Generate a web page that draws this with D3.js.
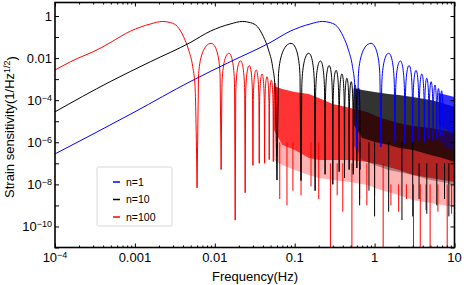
<!DOCTYPE html>
<meta charset="utf-8">
<title>strain sensitivity</title>
<style>
body { margin: 0; background: #fff; }
text { font-family: "Liberation Sans", Arial, sans-serif; fill: #000; }
</style>
<body>
<div id="chart"></div>
<script src="https://cdn.jsdelivr.net/npm/d3@7/dist/d3.min.js"></script>
<script>
// values: [frequency Hz, strain 1/Hz^1/2]

// rising part and main lobe, up to the first notch
var blueMain = [[1e-4, 2.8e-7], [0.001, 2.8e-5], [0.0049, 7.6e-4], [0.0156, 6.7e-3], [0.049, 0.054],
  [0.088, 0.19], [0.157, 0.42], [0.222, 0.55], [0.281, 0.48], [0.342, 0.31], [0.406, 0.104],
  [0.471, 0.024], [0.529, 0.0039], [0.566, 4.4e-4]];
var blackMain = [[1e-4, 2.8e-5], [4.9e-4, 7.6e-4], [0.00156, 6.7e-3], [0.0049, 0.054],
  [0.0088, 0.19], [0.0157, 0.42], [0.0222, 0.55], [0.0281, 0.48], [0.0342, 0.31], [0.0406, 0.104],
  [0.0471, 0.024], [0.0529, 0.0039], [0.0566, 4.4e-4]];
var redMain = [[1e-4, 2.7e-3], [1.56e-4, 6.7e-3], [3.66e-4, 0.029], [4.9e-4, 0.054],
  [8.8e-4, 0.19], [0.00157, 0.42], [0.00222, 0.55], [0.00281, 0.48], [0.00342, 0.31], [0.00406, 0.104],
  [0.00471, 0.024], [0.00529, 0.0039], [0.00566, 4.4e-4]];

// notches [f, depth] and the lobe tops between them
var blueNotches = [[0.6, 5e-7], [1.2, 6e-7], [1.8, 1e-6], [2.4, 8e-7], [3.0, 1e-6], [3.6, 1.2e-6],
  [4.2, 1e-6], [4.8, 1.5e-6], [5.4, 1.2e-6], [6.0, 1.5e-6], [6.6, 2e-6], [7.2, 2e-6]];
var bluePeaks = [0.050, 0.0169, 0.0073, 0.0044, 0.0026, 0.00176, 0.0011, 7.6e-4, 5.3e-4, 3.6e-4, 2.8e-4];

var blackNotches = [[0.06, 1.6e-8], [0.12, 1.5e-8], [0.18, 5e-9], [0.24, 3e-8], [0.30, 1e-8], [0.36, 4e-8],
  [0.42, 2e-8], [0.48, 5e-8], [0.54, 3e-8], [0.60, 6e-8], [0.66, 5e-8]];
var blackPeaks = [0.050, 0.0169, 0.0073, 0.0044, 0.0026, 0.00176, 0.0011, 7.6e-4, 5.3e-4, 3.8e-4];

var redNotches = [[0.006, 6.8e-9], [0.012, 5e-8], [0.018, 2e-10], [0.024, 4e-9], [0.030, 8e-8], [0.036, 1e-7],
  [0.042, 1e-7], [0.048, 1.5e-7], [0.054, 1.2e-7], [0.060, 2e-7]];
var redPeaks = [0.050, 0.0169, 0.0074, 0.0044, 0.0027, 0.00176, 0.0013, 9e-4, 6.5e-4];

// dense part drawn as a band: [f, top, bottom of the solid part, bottom of the thin part]
var blueBand = [[6.3, 2.2e-4, 6.6e-6, 1.3e-6], [8, 1.77e-4, 3.8e-6, 5.4e-7], [10, 1.42e-4, 2.2e-6, 4.3e-7]];
var blackBand = [[0.55, 3.8e-4, 6.6e-6, 7.4e-7], [0.7, 3.05e-4, 1.6e-6, 1.44e-7], [1, 2.45e-4, 1.03e-6, 8.4e-8],
  [1.5, 1.97e-4, 7.4e-7, 4.8e-8], [2, 1.77e-4, 5.4e-7, 3.9e-8], [3, 1.42e-4, 4.3e-7, 2.8e-8],
  [5, 1.02e-4, 2.5e-7, 1.6e-8], [7, 7.4e-5, 1.8e-7, 1.3e-8], [10, 4.75e-5, 1.16e-7, 9.4e-9]];
var redBand = [[0.055, 4.7e-4, 3.8e-6, 1.44e-7], [0.07, 3.4e-4, 7.4e-7, 8.4e-8], [0.1, 2.45e-4, 4.3e-7, 4.8e-8],
  [0.15, 1.97e-4, 1.8e-7, 2.8e-8], [0.2, 1.27e-4, 1.44e-7, 2.0e-8], [0.3, 6.6e-5, 1.44e-7, 1.6e-8],
  [0.5, 4.3e-5, 1.44e-7, 1.3e-8], [0.8, 2.75e-5, 1.16e-7, 9.4e-9], [1.2, 1.43e-5, 8.4e-8, 5.4e-9],
  [2, 8.3e-6, 4.8e-8, 3.1e-9], [3, 5.9e-6, 2.8e-8, 1.8e-9], [5, 4.8e-6, 2.0e-8, 1.3e-9],
  [7, 3.8e-6, 1.6e-8, 1.05e-9], [10, 2.8e-6, 1.3e-8, 8.4e-10]];

// deep spikes under the bands: [f, from, to]
var blackSpikes = [[0.65, 1e-6, 1e-9], [0.85, 1e-6, 5e-9], [1.0, 1e-6, 3e-10], [1.5, 1e-6, 5e-10],
  [2.2, 1e-6, 2e-10], [3.0, 1e-6, 3e-10], [3.6, 1e-7, 2e-9], [4.5, 1e-7, 4e-10], [6, 1e-7, 1e-9],
  [7.5, 1e-7, 2e-9], [8.5, 1e-7, 3e-10]];
var redSpikes = [[0.065, 1e-6, 2e-9], [0.08, 1e-6, 1e-9], [0.095, 1e-6, 5e-9], [0.12, 1e-6, 3e-9],
  [0.16, 1e-6, 8e-9], [0.2, 1e-6, 2e-9], [0.28, 1e-7, 1e-11], [0.34, 1e-7, 3e-9], [0.4, 1e-7, 5e-10],
  [0.52, 1e-7, 1e-11], [0.65, 1e-7, 2e-9], [0.8, 1e-7, 1e-9], [1.0, 1e-7, 3e-9], [1.28, 1e-7, 1e-11],
  [1.6, 1e-8, 1e-9], [2, 1e-8, 5e-10], [2.5, 1e-8, 2e-9], [3.07, 1e-8, 1e-11], [3.73, 1e-8, 1e-11],
  [4.4, 1e-8, 6e-10], [4.95, 1e-8, 1e-11], [6.2, 1e-8, 5e-10], [8.1, 1e-8, 1e-11], [9.2, 1e-8, 4e-10]];

var seriesNames = ["n=1", "n=10", "n=100"];
var seriesColors = ["#0000ff", "#000000", "#ff0000"];

var xTickVals = [1e-4, 0.001, 0.01, 0.1, 1, 10];
var xTickLabels = ["10^-4", "0.001", "0.01", "0.1", "1", "10"];
var yTickVals = [1e-10, 1e-8, 1e-6, 1e-4, 0.01, 1];
var yTickLabels = ["10^-10", "10^-8", "10^-6", "10^-4", "0.01", "1"];

var W = 464, H = 285;
var plot = {left: 55, right: 454.5, top: 2.5, bottom: 247.5};

var svg = d3.select("#chart").append("svg")
    .attr("width", W)
    .attr("height", H);

var x = d3.scaleLog().domain([1e-4, 10]).range([plot.left, plot.right]);
var y = d3.scaleLog().domain([1e-11, 4.38]).range([plot.bottom, plot.top]);

svg.append("clipPath").attr("id", "clip")
  .append("rect")
    .attr("x", plot.left).attr("y", plot.top)
    .attr("width", plot.right - plot.left).attr("height", plot.bottom - plot.top);

var series = [
  {main: redMain, notches: redNotches, peaks: redPeaks, band: redBand, spikes: redSpikes, color: seriesColors[2]},
  {main: blackMain, notches: blackNotches, peaks: blackPeaks, band: blackBand, spikes: blackSpikes, color: seriesColors[1]},
  {main: blueMain, notches: blueNotches, peaks: bluePeaks, band: blueBand, spikes: [], color: seriesColors[0]}
];

var line = d3.line()
    .x(function(d) { return x(d[0]); })
    .y(function(d) { return y(d[1]); })
    .curve(d3.curveMonotoneX);

var core = d3.area()
    .x(function(d) { return x(d[0]); })
    .y0(function(d) { return y(d[2]); })
    .y1(function(d) { return y(d[1]); });
var fringe = d3.area()
    .x(function(d) { return x(d[0]); })
    .y0(function(d) { return y(d[3]); })
    .y1(function(d) { return y(d[2]); });

// arch shaped lobes from notch to notch
function lobes(s) {
  var p = d3.path();
  s.peaks.forEach(function(pk, i) {
    var a = s.notches[i], b = s.notches[i + 1];
    var xa = x(a[0]), ya = y(a[1]), xb = x(b[0]), yb = y(b[1]);
    var xm = x((a[0] + b[0]) / 2), yp = y(pk);
    var ys = y(pk / 41), yc = y(pk / 4.6);
    var w1 = xm - xa, w2 = xb - xm;
    if (i == 0) p.moveTo(xa, ya);
    p.lineTo(xa + 0.1 * w1, ys);
    p.bezierCurveTo(xa + 0.15 * w1, yc, xa + 0.5 * w1, yp, xm, yp);
    p.bezierCurveTo(xb - 0.5 * w2, yp, xb - 0.15 * w2, yc, xb - 0.1 * w2, ys);
    p.lineTo(xb, yb);
  });
  return p.toString();
}

var curves = svg.append("g").attr("clip-path", "url(#clip)");

series.forEach(function(s) {
  var g = curves.append("g");
  g.append("path")
      .attr("d", fringe(s.band))
      .style("fill", s.color)
      .style("fill-opacity", 0.3);
  g.append("path")
      .attr("d", core(s.band))
      .style("fill", s.color)
      .style("fill-opacity", 0.8);
  g.selectAll(".spike")
      .data(s.spikes)
    .enter().append("line")
      .attr("x1", function(d) { return x(d[0]); })
      .attr("x2", function(d) { return x(d[0]); })
      .attr("y1", function(d) { return y(d[1]); })
      .attr("y2", function(d) { return y(d[2]); })
      .style("stroke", s.color)
      .style("stroke-width", 1);
  g.append("path")
      .attr("d", line(s.main.concat([s.notches[0]])))
      .style("fill", "none")
      .style("stroke", s.color)
      .style("stroke-width", 1);
  g.append("path")
      .attr("d", lobes(s))
      .style("fill", "none")
      .style("stroke", s.color)
      .style("stroke-width", 1);
});

// ticks, all pointing inwards
var decadesX = d3.range(-4, 2).map(function(e) { return Math.pow(10, e); });
var minorX = [];
decadesX.slice(0, 5).forEach(function(d) {
  for (var k = 2; k < 10; k++) minorX.push(d * k);
});
var decadesY = d3.range(-11, 1).map(function(e) { return Math.pow(10, e); });

function ticks(axis, vals, size, transform) {
  svg.append("g")
      .attr("transform", transform)
      .call(axis.tickValues(vals).tickSize(-size).tickFormat(""))
      .call(function(g) { g.select(".domain").remove(); })
      .selectAll("line").style("stroke", "#000");
}
ticks(d3.axisBottom(x), decadesX, 4, "translate(0," + plot.bottom + ")");
ticks(d3.axisBottom(x), minorX, 2, "translate(0," + plot.bottom + ")");
ticks(d3.axisTop(x), decadesX, 4, "translate(0," + plot.top + ")");
ticks(d3.axisTop(x), minorX, 2, "translate(0," + plot.top + ")");
ticks(d3.axisLeft(y), decadesY, 4, "translate(" + plot.left + ",0)");
ticks(d3.axisRight(y), decadesY, 4, "translate(" + plot.right + ",0)");

svg.append("rect")
    .attr("x", plot.left).attr("y", plot.top)
    .attr("width", plot.right - plot.left).attr("height", plot.bottom - plot.top)
    .style("fill", "none")
    .style("stroke", "#000")
    .style("stroke-width", 1.6);

function label(sel, txt) {
  var parts = txt.split("^");
  sel.text(parts[0]);
  if (parts.length > 1) {
    sel.append("tspan")
        .attr("dy", "-0.45em")
        .style("font-size", "9px")
        .text(parts[1].replace("-", "\u2212"));
  }
}

svg.selectAll(".xlab")
    .data(xTickVals)
  .enter().append("text")
    .attr("x", function(d) { return x(d); })
    .attr("y", 262)
    .attr("text-anchor", "middle")
    .style("font-size", "13px")
    .each(function(d, i) { label(d3.select(this), xTickLabels[i]); });

svg.selectAll(".ylab")
    .data(yTickVals)
  .enter().append("text")
    .attr("x", 52)
    .attr("y", function(d) { return y(d) + 4.5; })
    .attr("text-anchor", "end")
    .style("font-size", "13px")
    .each(function(d, i) { label(d3.select(this), yTickLabels[i]); });

svg.append("text")
    .attr("x", 255)
    .attr("y", 281)
    .attr("text-anchor", "middle")
    .style("font-size", "13px")
    .text("Frequency(Hz)");

var ylab = svg.append("text")
    .attr("transform", "translate(14,127) rotate(-90)")
    .attr("text-anchor", "middle")
    .style("font-size", "13px")
    .text("Strain sensitivity(1/Hz");
ylab.append("tspan").attr("dy", "-0.45em").style("font-size", "9px").text("1/2");
ylab.append("tspan").attr("dy", "0.45em").text(")");

// legend
var legend = svg.append("g").attr("transform", "translate(97,167)");
legend.append("rect")
    .attr("width", 75).attr("height", 59)
    .attr("rx", 1.5)
    .style("fill", "#fff")
    .style("stroke", "#cccccc")
    .style("stroke-width", 0.8);
var item = legend.selectAll(".item")
    .data(seriesNames)
  .enter().append("g")
    .attr("transform", function(d, i) { return "translate(0," + (15 + i * 17.5) + ")"; });
item.append("line")
    .attr("x1", 16).attr("x2", 23)
    .style("stroke", function(d, i) { return seriesColors[i]; })
    .style("stroke-width", 1.5);
item.append("text")
    .attr("x", 29).attr("y", 3.5)
    .style("font-size", "10.5px")
    .text(function(d) { return d; });
</script>
</body>
